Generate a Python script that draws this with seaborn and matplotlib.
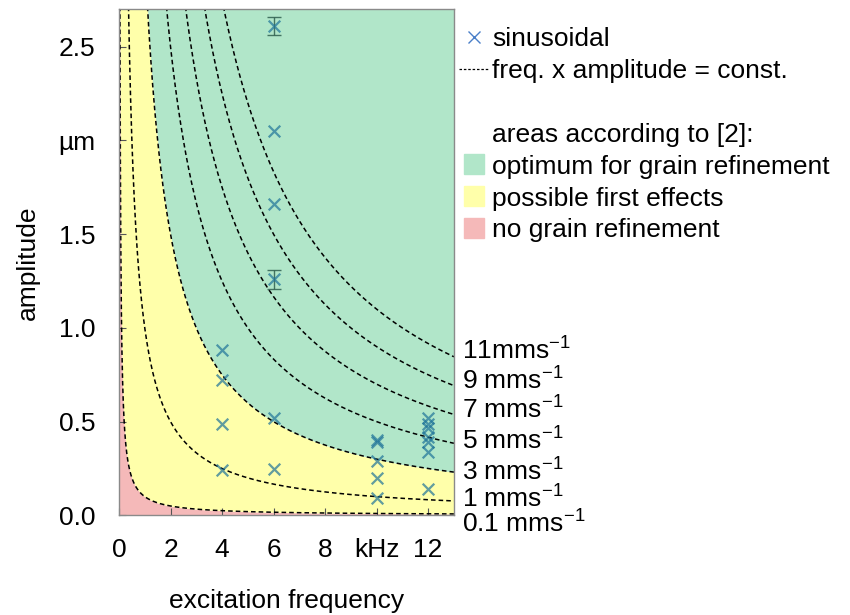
import numpy as np
import pandas as pd
import matplotlib
matplotlib.use("Agg")
import matplotlib.pyplot as plt
from matplotlib.lines import Line2D
import matplotlib.transforms as mtransforms
import seaborn as sns

# measured excitation points (frequency in kHz, amplitude in µm)
freq_khz = [4, 4, 4, 4,
            6, 6, 6, 6, 6, 6,
            10, 10, 10, 10, 10,
            12, 12, 12, 12, 12, 12, 12]
amp_um = [0.88, 0.72, 0.49, 0.24,
          2.61, 2.05, 1.66, 1.26, 0.52, 0.245,
          0.40, 0.39, 0.29, 0.20, 0.09,
          0.52, 0.49, 0.465, 0.42, 0.39, 0.34, 0.14]
amp_err = [0, 0, 0, 0,
           0.05, 0, 0, 0.05, 0, 0,
           0, 0, 0, 0, 0,
           0, 0, 0, 0, 0, 0, 0]

# iso-velocity lines: frequency x amplitude = const.
velocities = [0.1, 1, 3, 5, 7, 9, 11]
velocity_labels = ["0.1 mms$^{-1}$", "1 mms$^{-1}$", "3 mms$^{-1}$", "5 mms$^{-1}$",
                   "7 mms$^{-1}$", "9 mms$^{-1}$", "11mms$^{-1}$"]
label_offsets = [-0.055, 0.01, 0.0, 0.012, 0.025, 0.025, 0.03]

xticks = [0, 2, 4, 6, 8, 10, 12]
xticklabels = ["0", "2", "4", "6", "8", "kHz", "12"]
yticks = [0.0, 0.5, 1.0, 1.5, 2.0, 2.5]
yticklabels = ["0.0", "0.5", "1.0", "1.5", "µm", "2.5"]

green = "#b1e6c9"
yellow = "#ffffaa"
pink = "#f5b9b9"
marker_color = "#1f7399"
FS = 19

sns.set_theme(style="white")
plt.rcParams["font.family"] = ["Liberation Sans", "DejaVu Sans"]
plt.rcParams["mathtext.fontset"] = "custom"
plt.rcParams["mathtext.rm"] = "Liberation Sans"
plt.rcParams["mathtext.default"] = "rm"
for key in ["text.color", "axes.labelcolor", "xtick.color", "ytick.color"]:
    plt.rcParams[key] = "black"

fig = plt.figure(figsize=(8.5, 6.15), dpi=100)
ax = fig.add_axes([0.140, 0.162, 0.394, 0.823])

xmax, ymax = 13.0, 2.7
f = np.linspace(0.005, xmax, 3000)
low = velocities[0] / f
mid = velocities[2] / f
ax.fill_between(f, 0, np.minimum(low, ymax), color=pink, lw=0, zorder=0)
ax.fill_between(f, np.minimum(low, ymax), np.minimum(mid, ymax), color=yellow, lw=0, zorder=0)
ax.fill_between(f, np.minimum(mid, ymax), ymax, color=green, lw=0, zorder=0)

curves = pd.DataFrame({
    "f": np.tile(f, len(velocities)),
    "A": np.concatenate([v / f for v in velocities]),
    "v": np.repeat(velocities, len(f)),
})
for v in velocities:
    sub = curves[curves["v"] == v]
    sns.lineplot(data=sub, x="f", y="A", ax=ax, color="black", lw=1.1,
                 linestyle=(0, (3, 2)), legend=False, sort=False, zorder=2)

trans = mtransforms.blended_transform_factory(ax.transAxes, ax.transData)
for v, lab, off in zip(velocities, velocity_labels, label_offsets):
    ax.text(1.025, v / xmax + off, lab, transform=trans, ha="left", va="center",
            fontsize=FS, clip_on=False)

pts = pd.DataFrame({"f": freq_khz, "A": amp_um, "err": amp_err})
err = pts[pts["err"] > 0]
ax.errorbar(err["f"], err["A"], yerr=err["err"], fmt="none", ecolor="#2f5f4f",
            elinewidth=1.0, capsize=5, capthick=1.0, alpha=0.85, zorder=3)
sns.scatterplot(data=pts, x="f", y="A", ax=ax, marker="x", color=marker_color,
                s=70, linewidth=1.6, alpha=0.7, zorder=4, legend=False)

ax.set_xlim(0, xmax)
ax.set_ylim(0, ymax)
ax.set_xticks(xticks)
ax.set_xticklabels(xticklabels)
ax.set_yticks(yticks)
ax.set_yticklabels(yticklabels)
ax.tick_params(axis="both", direction="in", length=5, width=0.8, color="#555555",
               labelsize=FS, pad=16, bottom=True, left=True, top=False, right=False)
ax.tick_params(axis="y", pad=17)
for s in ax.spines.values():
    s.set_color("#8a8a8a")
    s.set_linewidth(1.0)
ax.set_xlabel("excitation frequency", fontsize=FS, labelpad=20)
ax.set_ylabel("amplitude", fontsize=FS, labelpad=13)

handles = [
    Line2D([], [], marker="x", ls="", color="#4a7fc8", markersize=8, markeredgewidth=1.0),
    Line2D([], [], color="black", lw=0.9, linestyle=(0, (2, 1.5))),
    Line2D([], [], ls="", marker=""),
    Line2D([], [], ls="", marker=""),
    Line2D([], [], marker="s", ls="", color=green, markersize=14),
    Line2D([], [], marker="s", ls="", color=yellow, markersize=14),
    Line2D([], [], marker="s", ls="", color=pink, markersize=14),
]
labels = ["sinusoidal", "freq. x amplitude = const.", " ", "areas according to [2]:",
          "optimum for grain refinement", "possible first effects", "no grain refinement"]
ax.legend(handles, labels, loc="upper left", bbox_to_anchor=(1.015, 0.965),
          frameon=False, fontsize=FS, handlelength=1.15, handletextpad=0.1,
          labelspacing=0.30, borderaxespad=0.0, borderpad=0.0)

fig.savefig("out.png", dpi=100)
